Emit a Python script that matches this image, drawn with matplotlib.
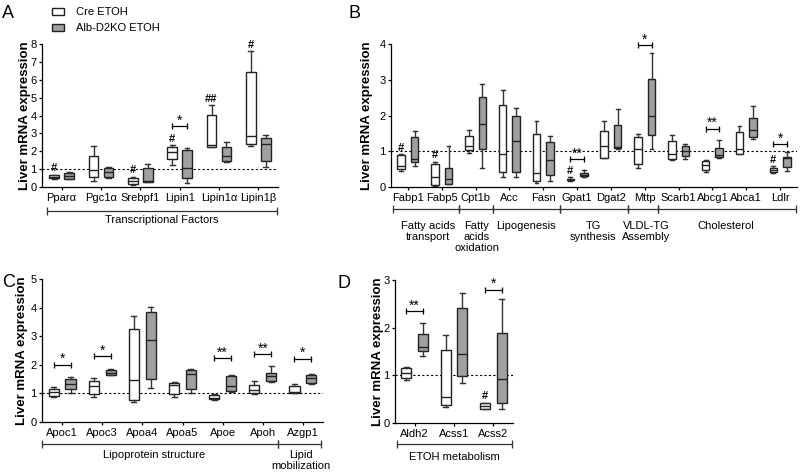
import matplotlib
matplotlib.use('Agg')
import matplotlib.pyplot as plt
from matplotlib.patches import Patch
import numpy as np

plt.rcParams['font.family'] = ['Liberation Sans', 'DejaVu Sans']
plt.rcParams['font.size'] = 8

# box stats per gene: [whisker low, q1, median, q3, whisker high]
a_genes = ['Pparα', 'Pgc1α', 'Srebpf1', 'Lipin1', 'Lipin1α', 'Lipin1β']
a_cre = [[0.45, 0.5, 0.57, 0.65, 0.68], [0.35, 0.58, 0.95, 1.75, 2.29],
         [0.13, 0.17, 0.32, 0.5, 0.58], [1.25, 1.59, 1.96, 2.22, 2.33],
         [2.24, 2.24, 2.33, 4.01, 4.57], [2.29, 2.39, 2.85, 6.46, 7.6]]
a_ko = [[0.45, 0.47, 0.6, 0.8, 0.82], [0.52, 0.58, 0.86, 1.06, 1.12],
        [0.28, 0.3, 0.35, 1.06, 1.3], [0.2, 0.5, 1.04, 2.05, 2.16],
        [1.38, 1.47, 1.73, 2.26, 2.5], [1.1, 1.44, 2.41, 2.76, 2.93]]
a_hash = {0: '#', 2: '#', 3: '#', 4: '##', 5: '#'}
a_sig = [(3, 3.4, '*')]

b_genes = ['Fabp1', 'Fabp5', 'Cpt1b', 'Acc', 'Fasn', 'Gpat1', 'Dgat2', 'Mttp',
           'Scarb1', 'Abcg1', 'Abca1', 'Ldlr']
b_cre = [[0.46, 0.5, 0.59, 0.9, 0.92], [0.04, 0.05, 0.27, 0.64, 0.71],
         [0.96, 1.03, 1.15, 1.42, 1.59], [0.29, 0.41, 0.92, 2.28, 2.7],
         [0.12, 0.18, 0.38, 1.49, 1.86], [0.18, 0.19, 0.2, 0.23, 0.27],
         [0.8, 0.82, 1.15, 1.58, 1.86], [0.54, 0.64, 1.06, 1.39, 1.48],
         [0.76, 0.78, 0.91, 1.28, 1.46], [0.42, 0.48, 0.62, 0.74, 0.76],
         [0.91, 0.93, 1.06, 1.55, 1.7], [0.4, 0.41, 0.48, 0.53, 0.58]]
b_ko = [[0.59, 0.69, 0.77, 1.39, 1.57], [0.07, 0.09, 0.21, 0.53, 1.14],
        [0.53, 1.06, 1.75, 2.52, 2.89], [0.29, 0.42, 1.29, 2.0, 2.2],
        [0.18, 0.33, 0.76, 1.25, 1.43], [0.28, 0.3, 0.34, 0.39, 0.48],
        [1.06, 1.08, 1.12, 1.73, 2.17], [1.06, 1.46, 2.0, 3.03, 3.76],
        [0.79, 0.86, 1.01, 1.14, 1.21], [0.81, 0.83, 0.89, 1.08, 1.32],
        [1.34, 1.41, 1.6, 1.94, 2.26], [0.46, 0.57, 0.8, 0.85, 0.97]]
b_hash = {0: '#', 1: '#', 5: '#', 11: '#'}
b_sig = [(5, 0.78, '**'), (7, 3.96, '*'), (9, 1.63, '**'), (11, 1.19, '*')]

c_genes = ['Apoc1', 'Apoc3', 'Apoa4', 'Apoa5', 'Apoe', 'Apoh', 'Azgp1']
c_cre = [[0.88, 0.92, 1.05, 1.16, 1.21], [0.86, 0.97, 1.25, 1.44, 1.54],
         [0.69, 0.77, 1.47, 3.25, 3.7], [0.86, 0.98, 1.3, 1.38, 1.39],
         [0.78, 0.79, 0.84, 0.95, 0.99], [0.97, 1.02, 1.11, 1.31, 1.44],
         [1.02, 1.03, 1.05, 1.26, 1.32]]
c_ko = [[1.02, 1.14, 1.32, 1.5, 1.58], [1.65, 1.66, 1.73, 1.82, 1.86],
        [1.19, 1.51, 2.85, 3.83, 4.03], [1.03, 1.16, 1.67, 1.83, 1.86],
        [1.04, 1.1, 1.26, 1.62, 1.65], [1.4, 1.44, 1.6, 1.73, 1.97],
        [1.34, 1.38, 1.55, 1.65, 1.67]]
c_hash = {}
c_sig = [(0, 2.01, '*'), (1, 2.31, '*'), (4, 2.24, '**'), (5, 2.38, '**'), (6, 2.22, '*')]

d_genes = ['Aldh2', 'Acss1', 'Acss2']
d_cre = [[0.9, 0.95, 1.05, 1.16, 1.18], [0.34, 0.37, 0.55, 1.54, 1.84],
         [0.29, 0.29, 0.36, 0.41, 0.43]]
d_ko = [[1.41, 1.51, 1.6, 1.86, 2.1], [0.83, 0.98, 1.45, 2.42, 2.73],
        [0.29, 0.42, 0.92, 1.89, 2.61]]
d_hash = {2: '#'}
d_sig = [(0, 2.35, '**'), (2, 2.8, '*')]

# category groups under the x axis: edges in tick units, label centres
a_groups = ['Transcriptional Factors']
a_edges, a_centers = [-0.38, 5.48], [2.55]
b_groups = ['Fatty acids\ntransport', 'Fatty\nacids\noxidation', 'Lipogenesis',
            'TG\nsynthesis', 'VLDL-TG\nAssembly', 'Cholesterol']
b_edges = [-0.45, 1.5, 2.5, 4.5, 6.5, 7.4, 11.47]
b_centers = [0.6, 2.03, 3.5, 5.47, 7.05, 9.4]
c_groups = ['Lipoprotein structure', 'Lipid\nmobilization']
c_edges, c_centers = [-0.5, 5.38, 6.45], [2.3, 5.95]
d_groups = ['ETOH metabolism']
d_edges, d_centers = [-0.46, 2.48], [1.02]

GRAY = '#a0a0a0'
W, H = 800, 473

fig = plt.figure(figsize=(8, 4.73), dpi=100)


def px_axes(l, r, t, b):
    return fig.add_axes([l / W, 1 - b / H, (r - l) / W, (b - t) / H])


def to_stats(rows):
    return [dict(whislo=s[0], q1=s[1], med=s[2], q3=s[3], whishi=s[4], fliers=[])
            for s in rows]


def draw_panel(ax, genes, cre, ko, ymax, off, width, hashes, sigs,
               groups, edges, centers, line_px, text_px, ylab_px):
    pos = np.arange(len(genes))
    lw = 1.0
    for rows, sh, fc in [(cre, -off, 'white'), (ko, off, GRAY)]:
        ax.bxp(to_stats(rows), positions=pos + sh, widths=width, patch_artist=True,
               showfliers=False, manage_ticks=False,
               boxprops=dict(facecolor=fc, edgecolor='#222222', linewidth=lw),
               medianprops=dict(color='#222222', linewidth=lw),
               whiskerprops=dict(color='#333333', linewidth=lw),
               capprops=dict(color='#333333', linewidth=lw))
    ax.axhline(1, ls=(0, (2, 2)), color='black', lw=0.8, zorder=0)
    ax.set_xlim(-0.5, len(genes) - 0.5)
    ax.set_ylim(0, ymax)
    ax.set_yticks(range(0, ymax + 1))
    ax.set_xticks(pos)
    ax.set_xticklabels(genes, fontsize=8)
    ax.tick_params(labelsize=8, length=2.5, width=0.9, pad=1.5)
    for s in ['top', 'right']:
        ax.spines[s].set_visible(False)
    for s in ['left', 'bottom']:
        ax.spines[s].set_linewidth(0.9)
    ax.set_ylabel('Liver mRNA expression', fontsize=9.5, fontweight='bold')
    w_px = ax.get_position().width * W
    ax.yaxis.set_label_coords(-ylab_px / w_px, 0.5)

    for i, h in hashes.items():
        ax.annotate(h, (i - off, cre[i][4]), xytext=(0, 1), textcoords='offset points',
                    ha='center', va='bottom', fontsize=8, fontweight='bold')
    for i, y, star in sigs:
        ax.plot([i - off, i + off], [y, y], color='black', lw=0.9, marker='|',
                ms=5, mew=0.9, clip_on=False)
        ax.annotate(star, (i, y), xytext=(0, -1), textcoords='offset points',
                    ha='center', va='bottom', fontsize=10, annotation_clip=False)

    h_px = ax.get_position().height * H
    trans = ax.get_xaxis_transform()
    yl = -line_px / h_px
    for x0, x1 in zip(edges[:-1], edges[1:]):
        ax.plot([x0, x1], [yl, yl], color='#333333', lw=0.9, marker='|', ms=6,
                mew=0.9, transform=trans, clip_on=False)
    for xc, g in zip(centers, groups):
        ax.text(xc, -text_px / h_px, g, transform=trans, ha='center', va='top',
                fontsize=8, linespacing=1.1)


ax_a = px_axes(42, 278, 44, 187)
draw_panel(ax_a, a_genes, a_cre, a_ko, 8, 0.19, 0.24, a_hash, a_sig,
           a_groups, a_edges, a_centers, 24, 28, 11)
ax_b = px_axes(391, 797, 44, 187)
draw_panel(ax_b, b_genes, b_cre, b_ko, 4, 0.2, 0.22, b_hash, b_sig,
           b_groups, b_edges, b_centers, 22, 34, 18)
ax_c = px_axes(42, 323, 279, 422)
draw_panel(ax_c, c_genes, c_cre, c_ko, 5, 0.21, 0.25, c_hash, c_sig,
           c_groups, c_edges, c_centers, 22, 28, 14)
ax_d = px_axes(395, 513, 280, 423)
draw_panel(ax_d, d_genes, d_cre, d_ko, 3, 0.21, 0.25, d_hash, d_sig,
           d_groups, d_edges, d_centers, 21, 29, 11)

for lab, x, y in [('A', 8, 13.5), ('B', 355, 13.5), ('C', 9, 282.5), ('D', 344, 283)]:
    fig.text(x / W, 1 - y / H, lab, fontsize=13, ha='center', va='center')

handles = [Patch(facecolor='white', edgecolor='#222222', lw=1.0),
           Patch(facecolor=GRAY, edgecolor='#222222', lw=1.0)]
fig.legend(handles, ['Cre ETOH', 'Alb-D2KO ETOH'], loc='upper left',
           bbox_to_anchor=(42 / W, 1 + 3 / H), frameon=False, fontsize=8,
           handlelength=1.1, handleheight=0.6, handletextpad=1.1, labelspacing=0.55)

fig.savefig('out.png', dpi=100, facecolor='white')
